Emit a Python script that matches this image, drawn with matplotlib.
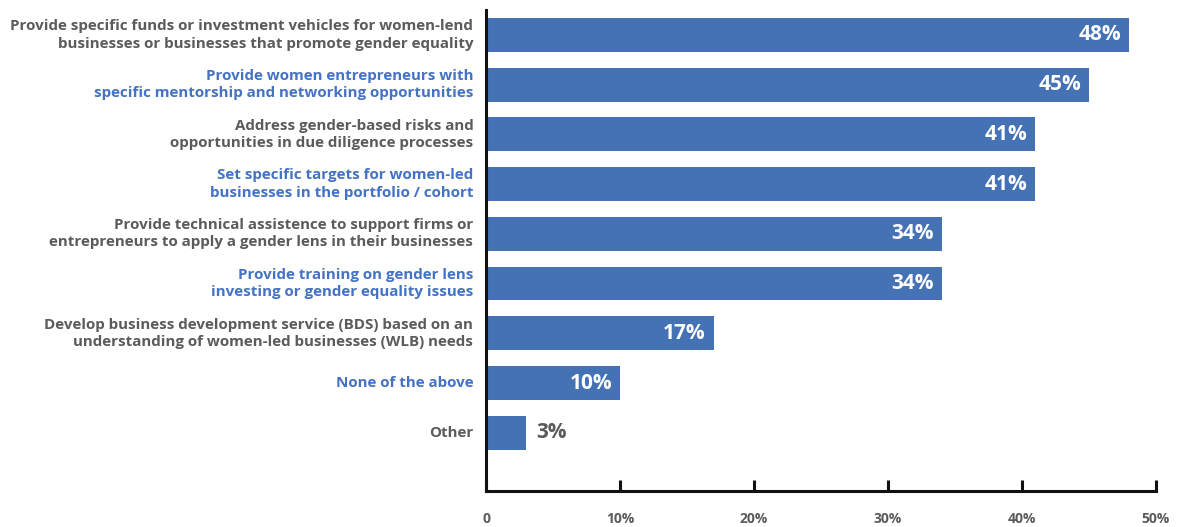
import matplotlib.pyplot as plt

categories = [
    "Provide specific funds or investment vehicles for women-lend\nbusinesses or businesses that promote gender equality",
    "Provide women entrepreneurs with\nspecific mentorship and networking opportunities",
    "Address gender-based risks and\nopportunities in due diligence processes",
    "Set specific targets for women-led\nbusinesses in the portfolio / cohort",
    "Provide technical assistence to support firms or\nentrepreneurs to apply a gender lens in their businesses",
    "Provide training on gender lens\ninvesting or gender equality issues",
    "Develop business development service (BDS) based on an\nunderstanding of women-led businesses (WLB) needs",
    "None of the above",
    "Other",
]
values = [48, 45, 41, 41, 34, 34, 17, 10, 3]
tick_values = [0, 10, 20, 30, 40, 50]
tick_labels = ["0", "10%", "20%", "30%", "40%", "50%"]

BAR = "#4571B5"
GREY = "#5B5B5B"
BLUE = "#4472C4"
FONT = "Open Sans"

fig = plt.figure(figsize=(11.86, 5.27), dpi=100)
ax = fig.add_axes([0.4098, 0.0683, 0.5649, 0.9127])

ypos = list(range(len(values)))
ax.barh(ypos, values, height=0.68, color=BAR, zorder=2)

ax.set_xlim(0, 50)
ax.set_ylim(9.17, -0.5)

for spine in ("top", "right"):
    ax.spines[spine].set_visible(False)
for spine in ("left", "bottom"):
    ax.spines[spine].set_linewidth(2.2)
    ax.spines[spine].set_color("#111111")

ax.set_yticks([])
ax.set_xticks(tick_values)
ax.set_xticklabels(tick_labels, fontfamily=FONT, fontweight="bold",
                   fontsize=10, color=GREY)
ax.tick_params(axis="x", direction="in", length=8, width=2.2,
               color="#111111", pad=15)

for i, (cat, v) in enumerate(zip(categories, values)):
    col = GREY if i % 2 == 0 else BLUE
    ax.text(-0.95, i, cat, ha="right", va="center", fontfamily=FONT,
            fontweight="bold", fontsize=10.9, color=col, linespacing=1.3)
    if v >= 8:
        ax.text(v - 0.6, i, f"{v}%", ha="right", va="center",
                fontfamily=FONT, fontweight="bold", fontsize=15,
                color="white", zorder=3)
    else:
        ax.text(v + 0.75, i, f"{v}%", ha="left", va="center",
                fontfamily=FONT, fontweight="bold", fontsize=15,
                color=GREY, zorder=3)

fig.savefig("out.png", dpi=100)
